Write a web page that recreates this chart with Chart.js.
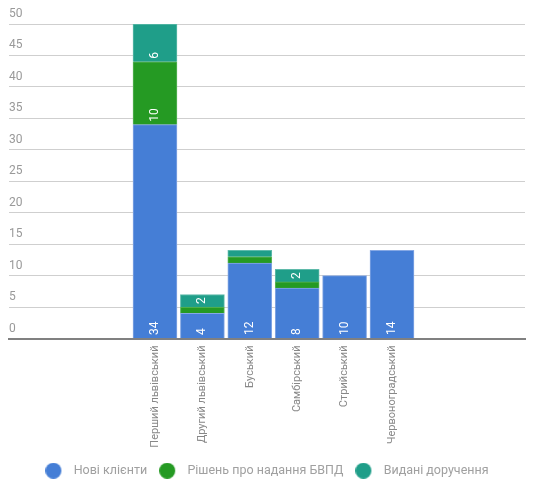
<!DOCTYPE html>
<html>
<head>
<meta charset="utf-8">
<script src="https://cdn.jsdelivr.net/npm/chart.js@4"></script>
<style>
  html, body { margin: 0; padding: 0; background: #fff; }
  #wrap { width: 539px; height: 490px; }
</style>
</head>
<body>
<div id="wrap"><canvas id="myChart"></canvas></div>
<script>
const districts = ['Перший львівський', 'Другий львівський', 'Буський', 'Самбірський', 'Стрийський', 'Червоноградський'];
const seriesNames = ['Нові клієнти', 'Рішень про надання БВПД', 'Видані доручення'];
const newClients = [34, 4, 12, 8, 10, 14];
const decisions = [10, 1, 1, 1, 0, 0];
const orders = [6, 2, 1, 2, 0, 0];
const colors = ['#457ed6', '#259a23', '#1f9e89'];
const edgeColors = ['#86a8e4', '#5cb55a', '#5fbaaa'];
const yMax = 50;
const yStep = 5;

const fontName = "'Roboto', sans-serif";

function toPoints(values) {
    return values.map(function(v, i) { return { x: i, y: v }; });
}

// legend marker: circle on the left of a wider box, so the text sits further away
function legendDot(color) {
    var c = document.createElement('canvas');
    c.width = 22;
    c.height = 16;
    var g = c.getContext('2d');
    g.fillStyle = color;
    g.beginPath();
    g.arc(8, 8, 8, 0, Math.PI * 2);
    g.fill();
    return c;
}

// white numbers rotated inside each segment, at its bottom
const barLabels = {
    id: 'barLabels',
    afterDatasetsDraw(chart) {
        const ctx = chart.ctx;
        ctx.save();
        ctx.font = '12px ' + fontName;
        ctx.fillStyle = '#fff';
        ctx.textAlign = 'left';
        ctx.textBaseline = 'middle';
        chart.data.datasets.forEach(function(ds, d) {
            const meta = chart.getDatasetMeta(d);
            meta.data.forEach(function(bar, i) {
                const v = ds.data[i].y;
                if (!v) return;
                const h = Math.abs(bar.base - bar.y);
                const w = ctx.measureText(String(v)).width;
                if (h < w + 5) return;
                ctx.save();
                ctx.translate(bar.x, bar.base - 3);
                ctx.rotate(-Math.PI / 2);
                ctx.fillText(String(v), 0, 0);
                ctx.restore();
            });
        });
        ctx.restore();
    }
};

const allSeries = [newClients, decisions, orders];
const dato = {
    datasets: allSeries.map(function(values, k) {
        return {
            label: seriesNames[k],
            data: toPoints(values),
            backgroundColor: colors[k],
            borderColor: edgeColors[k],
            borderWidth: 1,
            pointStyle: legendDot(colors[k])
        };
    })
};

const config = {
    type: 'bar',
    data: dato,
    plugins: [barLabels],
    options: {
        responsive: true,
        maintainAspectRatio: false,
        animation: false,
        barThickness: 44,
        layout: { padding: { left: 9, right: 14, top: 24, bottom: 3 } },
        scales: {
            x: {
                type: 'linear',
                stacked: true,
                offset: false,
                min: -3.08,
                max: 7.806,
                afterBuildTicks: function(scale) {
                    scale.ticks = districts.map(function(_, i) { return { value: i }; });
                },
                afterFit: function(scale) {
                    scale.height = 114;
                },
                grid: { display: false, drawTicks: false },
                border: { display: true, color: '#808080', width: 2 },
                ticks: {
                    minRotation: 90,
                    maxRotation: 90,
                    autoSkip: false,
                    padding: 7,
                    color: '#888',
                    font: { family: fontName, size: 11 },
                    callback: function(value) { return districts[value] || ''; }
                }
            },
            y: {
                stacked: true,
                min: 0,
                max: yMax,
                grid: { color: '#cfcfcf', drawTicks: false },
                border: { display: false },
                ticks: {
                    stepSize: yStep,
                    mirror: true,
                    padding: 0,
                    labelOffset: -10,
                    color: '#999',
                    font: { family: fontName, size: 12 }
                }
            }
        },
        plugins: {
            tooltip: { enabled: false },
            legend: {
                position: 'bottom',
                labels: {
                    usePointStyle: true,
                    pointStyleWidth: 22,
                    boxHeight: 12.5,
                    padding: 12,
                    color: '#a0a0a0',
                    font: { family: fontName, size: 12.5 }
                }
            }
        }
    }
};

const myChart = new Chart(document.getElementById('myChart'), config);
</script>
</body>
</html>
